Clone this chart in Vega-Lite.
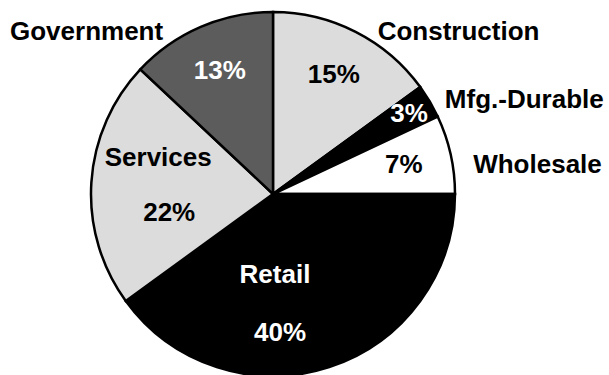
{
  "$schema": "https://vega.github.io/schema/vega-lite/v6.json",
  "autosize": {"type": "none"},
  "padding": {"left": 0, "top": 13, "right": 63, "bottom": 0},
  "width": 546,
  "height": 362,
  "background": "white",
  "config": {
    "view": {"stroke": null},
    "text": {"font": "Liberation Sans, Arial", "fontWeight": "bold", "fontSize": 26, "baseline": "middle", "align": "center"}
  },
  "data": {
    "values": [
      {"seq": 1, "cat": "Construction", "pct": 15, "label": "15%"},
      {"seq": 2, "cat": "Mfg.-Durable", "pct": 3, "label": "3%"},
      {"seq": 3, "cat": "Wholesale", "pct": 7, "label": "7%"},
      {"seq": 4, "cat": "Retail", "pct": 40, "label": "40%"},
      {"seq": 5, "cat": "Services", "pct": 22, "label": "22%"},
      {"seq": 6, "cat": "Government", "pct": 13, "label": "13%"}
    ]
  },
  "encoding": {
    "theta": {"field": "pct", "type": "quantitative", "stack": true},
    "order": {"field": "seq", "type": "quantitative"},
    "detail": {"field": "cat", "type": "nominal"}
  },
  "layer": [
    {
      "mark": {"type": "arc", "radius": 182, "stroke": "black", "strokeWidth": 2.5},
      "encoding": {
        "color": {
          "field": "cat", "type": "nominal", "legend": null,
          "scale": {
            "domain": ["Construction", "Mfg.-Durable", "Wholesale", "Retail", "Services", "Government"],
            "range": ["#dcdcdc", "#000000", "#ffffff", "#000000", "#dcdcdc", "#5c5c5c"]
          }
        }
      }
    },
    {
      "mark": {"type": "text", "radius": 134},
      "encoding": {
        "text": {"condition": {"test": "datum.cat === 'Construction' || datum.cat === 'Wholesale' || datum.cat === 'Government'", "field": "label"}, "value": ""},
        "fill": {"condition": {"test": "datum.cat === 'Government'", "value": "white"}, "value": "black"}
      }
    },
    {
      "mark": {"type": "text", "radius": 158, "fill": "white"},
      "encoding": {
        "text": {"condition": {"test": "datum.cat === 'Mfg.-Durable'", "field": "label"}, "value": ""}
      }
    },
    {
      "mark": {"type": "text", "radius": 110, "dx": -5, "dy": -29, "fill": "black"},
      "encoding": {
        "text": {"condition": {"test": "datum.cat === 'Services'", "field": "cat"}, "value": ""}
      }
    },
    {
      "mark": {"type": "text", "radius": 110, "dx": 6, "dy": 26, "fill": "black"},
      "encoding": {
        "text": {"condition": {"test": "datum.cat === 'Services'", "field": "label"}, "value": ""}
      }
    },
    {
      "mark": {"type": "text", "radius": 110, "dx": -32, "dy": -24, "fill": "white"},
      "encoding": {
        "text": {"condition": {"test": "datum.cat === 'Retail'", "field": "cat"}, "value": ""}
      }
    },
    {
      "mark": {"type": "text", "radius": 110, "dx": -27, "dy": 34, "fill": "white"},
      "encoding": {
        "text": {"condition": {"test": "datum.cat === 'Retail'", "field": "label"}, "value": ""}
      }
    },
    {
      "mark": {"type": "text", "radius": 182, "dx": 22, "dy": 0, "align": "left", "fill": "black"},
      "encoding": {
        "text": {"condition": {"test": "datum.cat === 'Construction'", "field": "cat"}, "value": ""}
      }
    },
    {
      "mark": {"type": "text", "radius": 195, "dx": 4, "dy": 5, "align": "left", "fill": "black"},
      "encoding": {
        "text": {"condition": {"test": "datum.cat === 'Mfg.-Durable'", "field": "cat"}, "value": ""}
      }
    },
    {
      "mark": {"type": "text", "radius": 200, "dx": 5, "dy": 15, "align": "left", "fill": "black"},
      "encoding": {
        "text": {"condition": {"test": "datum.cat === 'Wholesale'", "field": "cat"}, "value": ""}
      }
    },
    {
      "mark": {"type": "text", "radius": 196, "dx": -32, "dy": 18, "align": "right", "fill": "black"},
      "encoding": {
        "text": {"condition": {"test": "datum.cat === 'Government'", "field": "cat"}, "value": ""}
      }
    }
  ]
}
